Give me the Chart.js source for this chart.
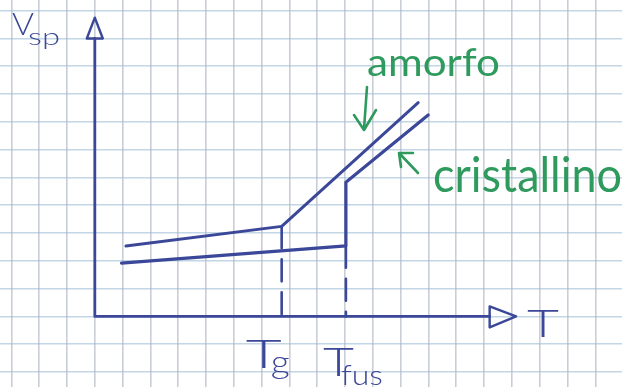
<!DOCTYPE html>
<html>
<head>
<meta charset="utf-8">
<script src="https://cdn.jsdelivr.net/npm/chart.js@4/dist/chart.umd.min.js"></script>
<style>
  html, body { margin: 0; padding: 0; background: #ffffff; }
  canvas { display: block; }
</style>
</head>
<body>
<canvas id="c" width="622" height="387"></canvas>
<script>
// Specific volume against temperature for an amorphous and a crystalline polymer.
// Units are squares of the squared paper, origin where the two axes meet.
const amorfoT = [1.12, 6.72, 11.63];
const amorfoV = [2.53, 3.24, 7.69];
const cristallinoT = [0.96, 9.03, 9.03, 11.99];
const cristallinoV = [1.92, 2.54, 4.83, 7.25];

// Glass transition and melting temperature, with the volume where each guide leaves its curve
const transitionNames = ['g', 'fus'];
const transitionT = [6.72, 9.03];
const transitionV = [3.24, 2.54];

const seriesNames = ['amorfo', 'cristallino'];
const axisNames = ['V', 'sp', 'T'];

const ink = '#3b4798';
const green = '#2f9a5e';

const pts = (xs, ys) => xs.map((v, i) => ({ x: v, y: ys[i] }));
const range = (a, b) => { const r = []; for (let i = Math.ceil(a); i <= Math.floor(b); i++) r.push({ value: i }); return r; };

function fitText(ctx, str, left, baseline, width, size, color, weight) {
  ctx.save();
  ctx.font = `${weight || 300} ${size}px Lato`;
  ctx.fillStyle = color;
  ctx.textBaseline = 'alphabetic';
  const w = ctx.measureText(str).width;
  ctx.translate(left, baseline);
  ctx.scale(width / w, 1);
  ctx.fillText(str, 0, 0);
  ctx.restore();
}

const sketch = {
  id: 'sketch',
  afterDatasetsDraw(chart) {
    const { ctx, scales: { x, y } } = chart;
    const px = v => x.getPixelForValue(v);
    const py = v => y.getPixelForValue(v);
    ctx.save();
    ctx.lineCap = 'round';
    ctx.lineJoin = 'round';

    // axes with open arrowheads
    ctx.strokeStyle = ink;
    ctx.lineWidth = 2.8;
    ctx.beginPath();
    ctx.moveTo(px(0), py(0)); ctx.lineTo(px(0), py(10.0));
    ctx.moveTo(px(0), py(0)); ctx.lineTo(px(14.2), py(0));
    ctx.stroke();
    ctx.lineWidth = 2.4;
    ctx.beginPath();
    ctx.moveTo(px(0) - 8, py(10.0)); ctx.lineTo(px(0), py(10.75)); ctx.lineTo(px(0) + 8, py(10.0)); ctx.closePath();
    ctx.stroke();
    ctx.beginPath();
    ctx.moveTo(px(14.2), py(0) - 10); ctx.lineTo(px(15.15), py(0)); ctx.lineTo(px(14.2), py(0) + 11); ctx.closePath();
    ctx.stroke();

    // axis titles
    fitText(ctx, axisNames[0], 12, 35, 22, 31, ink);
    fitText(ctx, axisNames[1], 28, 45, 32, 24, ink);
    fitText(ctx, axisNames[2], 527, 337, 32, 38, ink);

    // transition temperature labels under the axis
    const tx = transitionT.map(px);
    fitText(ctx, 'T', tx[0] - 36, 368, 36, 40, ink);
    fitText(ctx, transitionNames[0], tx[0] - 11, 373, 19, 32, ink);
    fitText(ctx, 'T', tx[1] - 23, 376, 31, 40, ink);
    fitText(ctx, transitionNames[1], tx[1] - 5, 385, 42, 28, ink);

    // curve names with pointing arrows
    fitText(ctx, seriesNames[0], 367, 76, 133, 38, green, 400);
    fitText(ctx, seriesNames[1], 433, 192, 189, 48, green, 400);
    ctx.strokeStyle = green;
    ctx.lineWidth = 2.6;
    ctx.beginPath();
    ctx.moveTo(367, 87); ctx.lineTo(364, 129);
    ctx.moveTo(354, 115); ctx.lineTo(364, 130); ctx.lineTo(376, 110);
    ctx.moveTo(418, 173); ctx.lineTo(400, 154);
    ctx.moveTo(401, 167); ctx.lineTo(399, 153); ctx.lineTo(413, 153);
    ctx.stroke();
    ctx.restore();
  }
};

const guide = i => ({
  data: pts([transitionT[i], transitionT[i]], [transitionV[i], 0]),
  borderColor: ink, borderWidth: 2.6, borderDash: [22, 11],
  pointRadius: 0, fill: false
});

new Chart(document.getElementById('c'), {
  type: 'line',
  data: {
    datasets: [
      { label: seriesNames[0], data: pts(amorfoT, amorfoV), borderColor: ink, borderWidth: 3, pointRadius: 0, tension: 0, fill: false },
      { label: seriesNames[1], data: pts(cristallinoT, cristallinoV), borderColor: ink, borderWidth: 3.2, pointRadius: 0, tension: 0, fill: false },
      guide(0),
      guide(1)
    ]
  },
  options: {
    responsive: false,
    animation: false,
    devicePixelRatio: 1,
    layout: { padding: 0 },
    plugins: { legend: { display: false }, tooltip: { enabled: false } },
    elements: { line: { borderCapStyle: 'round', borderJoinStyle: 'round' } },
    scales: {
      x: {
        type: 'linear', min: -3.41, max: 18.96,
        afterBuildTicks: s => { s.ticks = range(s.min, s.max); },
        ticks: { display: false },
        grid: { color: 'rgba(165,172,186,0.6)', lineWidth: 1.6, drawTicks: false },
        border: { display: false }
      },
      y: {
        type: 'linear', min: -2.54, max: 11.385,
        afterBuildTicks: s => { s.ticks = range(s.min, s.max); },
        ticks: { display: false },
        grid: { color: 'rgba(155,186,214,0.6)', lineWidth: 1.6, drawTicks: false },
        border: { display: false }
      }
    }
  },
  plugins: [sketch]
});
</script>
</body>
</html>
